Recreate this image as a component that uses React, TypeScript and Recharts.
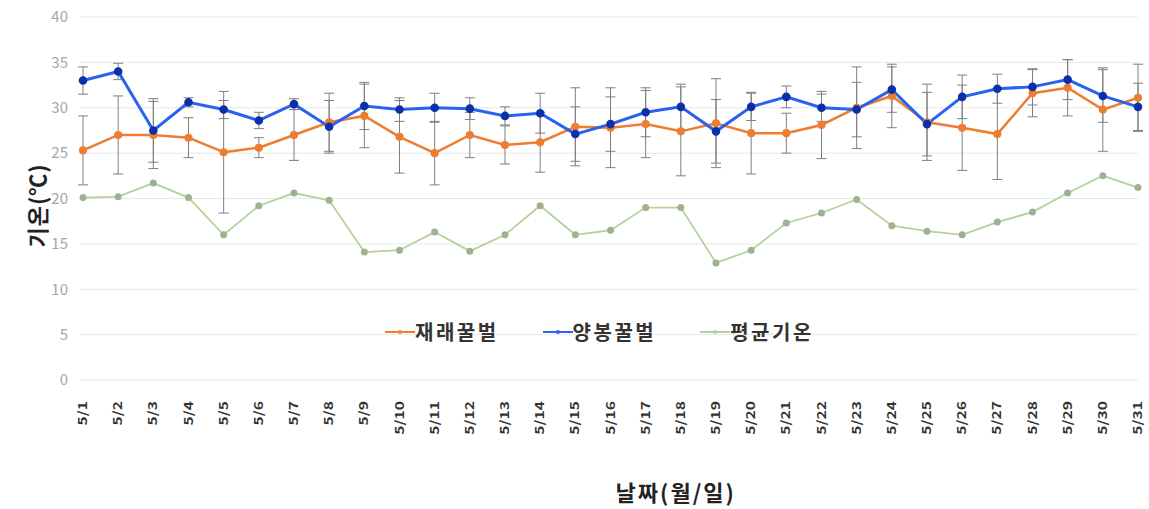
import {
  CartesianGrid,
  ErrorBar,
  Legend,
  Line,
  LineChart,
  XAxis,
  YAxis,
} from 'recharts'

const FONT = '"Noto Sans CJK KR", "Noto Sans", sans-serif'

const dates = [
  '5/1', '5/2', '5/3', '5/4', '5/5', '5/6', '5/7', '5/8', '5/9', '5/10',
  '5/11', '5/12', '5/13', '5/14', '5/15', '5/16', '5/17', '5/18', '5/19', '5/20',
  '5/21', '5/22', '5/23', '5/24', '5/25', '5/26', '5/27', '5/28', '5/29', '5/30', '5/31',
]

// 재래꿀벌
const nativeBee = [
  25.3, 27.0, 27.0, 26.7, 25.1, 25.6, 27.0, 28.4, 29.1, 26.8,
  25.0, 27.0, 25.9, 26.2, 27.9, 27.8, 28.2, 27.4, 28.3, 27.2,
  27.2, 28.1, 30.0, 31.3, 28.4, 27.8, 27.1, 31.6, 32.2, 29.8, 31.1,
]
const nativeBeeSd = [
  3.8, 4.3, 3.7, 2.2, 6.7, 1.1, 2.8, 3.2, 3.5, 4.0,
  3.5, 2.5, 2.1, 3.3, 4.3, 4.4, 3.7, 4.9, 4.9, 4.5,
  2.2, 3.7, 4.5, 3.5, 4.2, 4.7, 5.0, 2.6, 3.1, 4.6, 3.7,
]

// 양봉꿀벌
const westernBee = [
  33.0, 34.0, 27.5, 30.6, 29.8, 28.6, 30.4, 27.9, 30.2, 29.8,
  30.0, 29.9, 29.1, 29.4, 27.1, 28.2, 29.5, 30.1, 27.4, 30.1,
  31.2, 30.0, 29.8, 32.0, 28.2, 31.2, 32.1, 32.3, 33.1, 31.3, 30.1,
]
const westernBeeSd = [
  1.5, 0.9, 3.5, 0.5, 1.0, 0.9, 0.6, 2.9, 2.6, 1.3,
  1.6, 1.2, 1.0, 2.2, 3.0, 3.0, 2.7, 2.5, 3.5, 1.5,
  1.2, 1.5, 3.0, 2.5, 3.5, 2.4, 1.6, 2.0, 2.2, 2.9, 2.6,
]

// 평균기온
const meanTemp = [
  20.1, 20.2, 21.7, 20.1, 16.0, 19.2, 20.6, 19.8, 14.1, 14.3,
  16.3, 14.2, 16.0, 19.2, 16.0, 16.5, 19.0, 19.0, 12.9, 14.3,
  17.3, 18.4, 19.9, 17.0, 16.4, 16.0, 17.4, 18.5, 20.6, 22.5, 21.2,
]

const yTicks = [0, 5, 10, 15, 20, 25, 30, 35, 40]
const legendOrder = ['재래꿀벌', '양봉꿀벌', '평균기온']

const data = dates.map((date, i) => ({
  date,
  native: nativeBee[i],
  nativeSd: nativeBeeSd[i],
  western: westernBee[i],
  westernSd: westernBeeSd[i],
  mean: meanTemp[i],
}))

const DateTick = ({ x, y, payload }: any) => {
  const tx = x + 4
  const ty = y + 13
  return (
    <text
      x={0}
      y={0}
      transform={`translate(${tx} ${ty}) rotate(-90) scale(1.3 1)`}
      textAnchor="end"
      fontSize={12}
      fontWeight={700}
      fill="#333"
      fontFamily={FONT}
    >
      {payload.value}
    </text>
  )
}

const YTitle = ({ viewBox }: any) => {
  const cx = 36
  const cy = viewBox.y + viewBox.height / 2 + 7
  return (
    <text
      x={cx}
      y={cy}
      transform={`rotate(-90 ${cx} ${cy})`}
      textAnchor="middle"
      dominantBaseline="central"
      fontSize={22}
      fontWeight={700}
      letterSpacing={1}
      fill="#222"
      fontFamily={FONT}
    >
      기온(℃)
    </text>
  )
}

const XTitle = ({ viewBox }: any) => (
  <text
    x={viewBox.x + viewBox.width * 0.563}
    y={viewBox.y + 111}
    textAnchor="middle"
    dominantBaseline="central"
    fontSize={22}
    fontWeight={700}
    letterSpacing={2}
    fill="#222"
    fontFamily={FONT}
  >
    날짜(월/일)
  </text>
)

const LegendContent = ({ payload }: any) => {
  const items = [...(payload || [])].sort(
    (a: any, b: any) => legendOrder.indexOf(a.value) - legendOrder.indexOf(b.value),
  )
  return (
    <div style={{ display: 'flex', alignItems: 'center', fontFamily: FONT }}>
      {items.map((item: any) => (
        <div
          key={item.value}
          style={{ display: 'flex', alignItems: 'center', marginRight: 44 }}
        >
          <svg width={30} height={12}>
            <line x1={0} y1={6} x2={30} y2={6} stroke={item.color} strokeWidth={2} />
            <circle cx={15} cy={6} r={2} fill={item.color} />
          </svg>
          <span
            style={{
              fontSize: 20,
              fontWeight: 700,
              color: '#333',
              letterSpacing: 2.5,
            }}
          >
            {item.value}
          </span>
        </div>
      ))}
    </div>
  )
}

export default function App() {
  return (
    <div style={{ position: 'absolute', left: 0, top: 0, background: '#fff' }}>
      <LineChart
        width={1149}
        height={509}
        data={data}
        margin={{ top: 17, right: 11, left: 0, bottom: 0 }}
      >
        <CartesianGrid vertical={false} stroke="#e8e8e8" />
        <XAxis
          dataKey="date"
          axisLine={false}
          tickLine={false}
          interval={0}
          height={129}
          padding={{ left: 3, right: 0 }}
          tick={<DateTick />}
          label={<XTitle />}
        />
        <YAxis
          domain={[0, 40]}
          ticks={yTicks}
          width={80}
          axisLine={false}
          tickLine={false}
          tickMargin={6}
          tick={{ fontSize: 15, fill: '#a6a6a6', fontFamily: FONT }}
          label={<YTitle />}
        />
        <Legend
          layout="horizontal"
          verticalAlign="middle"
          align="center"
          wrapperStyle={{ top: 317, left: 385, width: 520 }}
          content={<LegendContent />}
        />
        <Line
          name="평균기온"
          dataKey="mean"
          stroke="#b3d39a"
          strokeWidth={1.8}
          dot={{ r: 2.6, fill: '#9fb290', stroke: '#9fb290' }}
          isAnimationActive={false}
        />
        <Line
          name="재래꿀벌"
          dataKey="native"
          stroke="#ed7d31"
          strokeWidth={2.5}
          dot={{ r: 2.8, fill: '#ed7d31', stroke: '#ed7d31' }}
          isAnimationActive={false}
        >
          <ErrorBar dataKey="nativeSd" width={5} strokeWidth={1} stroke="#7f7f7f" direction="y" />
        </Line>
        <Line
          name="양봉꿀벌"
          dataKey="western"
          stroke="#2962ee"
          strokeWidth={3}
          dot={{ r: 2.8, fill: '#0d2fa8', stroke: '#0d2fa8' }}
          isAnimationActive={false}
        >
          <ErrorBar dataKey="westernSd" width={5} strokeWidth={1} stroke="#7f7f7f" direction="y" />
        </Line>
      </LineChart>
    </div>
  )
}
